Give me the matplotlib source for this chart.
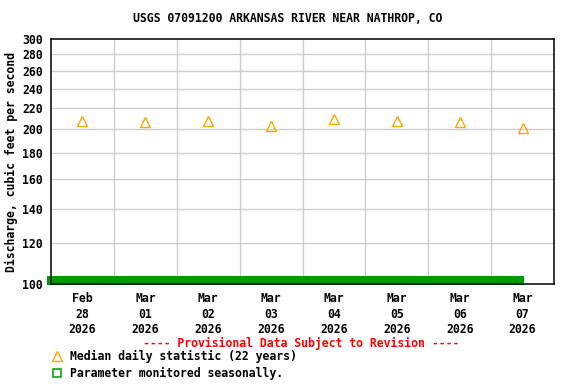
import matplotlib
matplotlib.use("Agg")
import matplotlib.pyplot as plt
from matplotlib.lines import Line2D
from matplotlib.patches import Rectangle
import matplotlib.transforms as mtransforms

# data
dates = ["Feb\n28\n2026", "Mar\n01\n2026", "Mar\n02\n2026", "Mar\n03\n2026",
         "Mar\n04\n2026", "Mar\n05\n2026", "Mar\n06\n2026", "Mar\n07\n2026"]
median_cfs = [208, 206.5, 207.5, 203, 210, 207.5, 206.5, 201]
yticks = [100, 120, 140, 160, 180, 200, 220, 240, 260, 280, 300]
seasonal_span = [-0.56, 7.02]   # green "monitored seasonally" bar (days)

plt.rcParams['font.family'] = ['DejaVu Sans Mono']
plt.rcParams['font.weight'] = 'bold'
fs = 8.3

fig = plt.figure(figsize=(5.76, 3.84), dpi=100)
ax = fig.add_axes([51/576, 1 - 284/384, 503/576, 245/384])

x = list(range(len(dates)))
ax.plot(x, median_cfs, linestyle='none', marker='^', markersize=7,
        markerfacecolor='none', markeredgecolor='#FFA500', markeredgewidth=1.0, zorder=3)

ax.set_yscale('log')
ax.set_ylim(100, 300)
ax.set_xlim(-0.5, len(dates) - 0.5)
ax.yaxis.set_minor_locator(matplotlib.ticker.NullLocator())
ax.set_yticks(yticks)
ax.set_yticklabels([str(v) for v in yticks], fontsize=fs, fontweight='bold')
ax.set_xticks(x)
ax.set_xticklabels(dates, fontsize=fs, fontweight='bold', linespacing=1.25)
ax.tick_params(axis='both', length=0, pad=6)

# grid: horizontal at each y tick, vertical between days
for v in yticks[1:-1]:
    ax.axhline(v, color='#cccccc', lw=1, zorder=0)
for d in x[:-1]:
    ax.axvline(d + 0.5, color='#cccccc', lw=1, zorder=0)

for s in ax.spines.values():
    s.set_linewidth(1.1)
    s.set_zorder(5)

# seasonal bar along the bottom
trans = mtransforms.blended_transform_factory(ax.transData, ax.transAxes)
ax.add_patch(Rectangle((seasonal_span[0], -0.006), seasonal_span[1] - seasonal_span[0], 0.038,
                       transform=trans, color='#009900', clip_on=False, zorder=4, lw=0))

ax.set_ylabel('Discharge, cubic feet per second', fontsize=fs, fontweight='bold', labelpad=3)
fig.text(0.5, 1 - 19/384, 'USGS 07091200 ARKANSAS RIVER NEAR NATHROP, CO',
         ha='center', va='center', fontsize=fs, fontweight='bold')

# legend area
fig.text(301/576, 1 - 343/384, '---- Provisional Data Subject to Revision ----',
         ha='center', va='center', color='red', fontsize=fs, fontweight='bold')
fig.add_artist(Line2D([57/576], [1 - 356/384], marker='^', markersize=7, linestyle='none',
                      markerfacecolor='none', markeredgecolor='#FFA500', markeredgewidth=1.0))
fig.text(70/576, 1 - 356/384, 'Median daily statistic (22 years)',
         ha='left', va='center', fontsize=fs, fontweight='bold')
fig.add_artist(Line2D([57/576], [1 - 373/384], marker='s', markersize=6, linestyle='none',
                      markerfacecolor='none', markeredgecolor='#009900', markeredgewidth=1.1))
fig.text(70/576, 1 - 373/384, 'Parameter monitored seasonally.',
         ha='left', va='center', fontsize=fs, fontweight='bold')

fig.savefig('out.png', dpi=100)
